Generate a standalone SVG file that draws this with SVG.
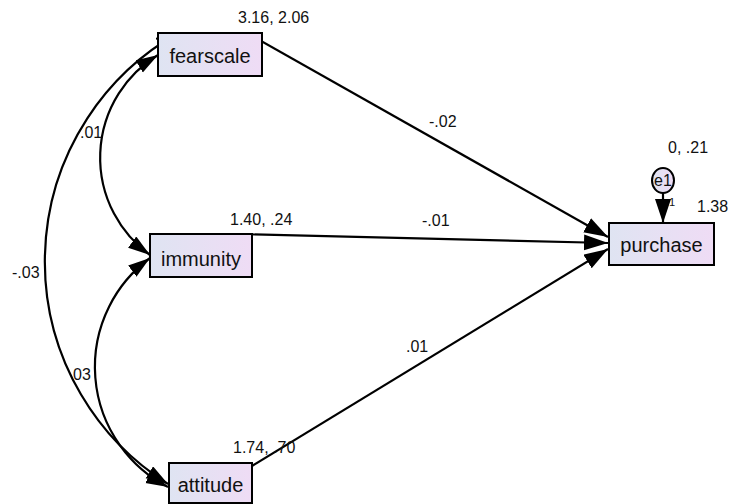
<svg xmlns="http://www.w3.org/2000/svg" width="729" height="504" viewBox="0 0 729 504">
<defs>
<linearGradient id="boxfill" x1="0" y1="0" x2="1" y2="0">
<stop offset="0" stop-color="#dfe4f2"/>
<stop offset="1" stop-color="#efdcf5"/>
</linearGradient>
<marker id="ah" markerUnits="userSpaceOnUse" markerWidth="26" markerHeight="18" refX="24" refY="8" orient="auto-start-reverse">
<path d="M0,0 L24,8 L0,16 Z" fill="#000"/>
</marker>
<marker id="ahs" markerUnits="userSpaceOnUse" markerWidth="24" markerHeight="16" refX="22" refY="7" orient="auto-start-reverse">
<path d="M0,0 L22,7 L0,14 Z" fill="#000"/>
</marker>
</defs>
<style>
.box{fill:url(#boxfill);stroke:#000;stroke-width:2}
.nl{font-family:"Liberation Sans",Arial,sans-serif;font-size:20px;fill:#111;text-anchor:middle}
.lb{font-family:"Liberation Sans",Arial,sans-serif;font-size:16px;fill:#111}
.ln{fill:none;stroke:#000;stroke-width:2.2}
</style>
<rect width="729" height="504" fill="#fff"/>
<g id="connectors">
<path class="ln" d="M247,33 L608,237" marker-end="url(#ah)"/>
<path class="ln" d="M235,234 L608,243" marker-end="url(#ah)"/>
<path class="ln" d="M252,466 L608,249" marker-end="url(#ah)"/>
<path class="ln" d="M663,193 L663,223" marker-end="url(#ah)"/>
<path class="ln" d="M178,33 A262.6,262.6 0 0 0 168,484" marker-start="url(#ahs)" marker-end="url(#ahs)"/>
<path class="ln" d="M158,55 A120,120 0 0 0 150,255" marker-start="url(#ahs)" marker-end="url(#ahs)"/>
<path class="ln" d="M150,258 A135.2,135.2 0 0 0 168,487" marker-start="url(#ahs)" marker-end="url(#ahs)"/>
</g>
<g id="fearscale">
<rect class="box" x="158" y="33" width="104" height="43"/>
<text class="nl" x="210" y="63">fearscale</text>
<text class="lb" x="238" y="23">3.16, 2.06</text>
</g>
<g id="immunity">
<rect class="box" x="150" y="234" width="102" height="43"/>
<text class="nl" x="201" y="266">immunity</text>
<text class="lb" x="230" y="225">1.40, .24</text>
</g>
<g id="attitude">
<rect class="box" x="169" y="463" width="83" height="40"/>
<text class="nl" x="210.5" y="492">attitude</text>
<text class="lb" x="233" y="453">1.74, .70</text>
</g>
<g id="purchase">
<rect class="box" x="609" y="223" width="105" height="42"/>
<text class="nl" x="661.5" y="252">purchase</text>
<text class="lb" x="697" y="212">1.38</text>
</g>
<g id="e1">
<ellipse cx="663" cy="180.5" rx="11" ry="12.5" fill="url(#boxfill)" stroke="#000" stroke-width="2"/>
<text class="lb" x="663" y="186" text-anchor="middle">e1</text>
<text class="lb" x="668" y="153">0, .21</text>
<text x="669" y="206" font-family="Liberation Sans,Arial,sans-serif" font-size="11" fill="#111">1</text>
</g>
<g id="labels">
<text class="lb" x="429" y="127">-.02</text>
<text class="lb" x="422" y="226">-.01</text>
<text class="lb" x="406" y="352">.01</text>
<text class="lb" x="80" y="138">.01</text>
<text class="lb" x="12" y="278">-.03</text>
<text class="lb" x="73" y="380">03</text>
</g>
</svg>
